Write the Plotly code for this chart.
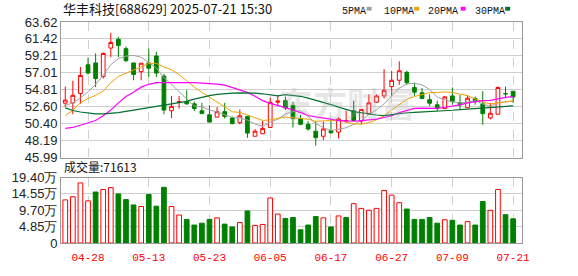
import plotly.graph_objects as go

dates = ["04-23","04-24","04-25","04-28","04-29","04-30","05-06","05-07","05-08","05-09",
         "05-12","05-13","05-14","05-15","05-16","05-19","05-20","05-21","05-22","05-23",
         "05-26","05-27","05-28","05-29","05-30","06-03","06-04","06-05","06-06","06-09",
         "06-10","06-11","06-12","06-13","06-16","06-17","06-18","06-19","06-20","06-23",
         "06-24","06-25","06-26","06-27","06-30","07-01","07-02","07-03","07-04","07-07",
         "07-08","07-09","07-10","07-11","07-14","07-15","07-16","07-17","07-18","07-21"]

open_ = [53.07,53.11,54.33,58.06,58.30,56.54,60.23,61.37,60.15,58.30,
         57.16,58.30,59.20,56.59,52.08,53.19,53.27,52.98,52.08,51.55,
         51.26,51.96,51.14,50.53,51.35,48.77,49.10,49.91,53.19,53.39,
         52.78,51.06,50.32,49.42,48.77,49.50,49.30,50.76,52.08,50.73,
         51.67,53.19,54.01,55.23,56.05,57.08,55.11,54.42,53.52,52.86,
         52.37,54.01,53.11,52.49,53.68,52.98,51.14,51.63,54.33,54.62]
high = [55.23,55.97,57.77,59.00,59.53,59.66,62.19,61.70,60.43,58.30,
        58.26,60.15,59.74,56.87,54.01,54.01,54.74,53.27,53.11,52.78,
        52.57,53.11,51.35,52.25,51.35,49.71,50.73,53.80,54.01,53.93,
        53.27,51.55,50.73,50.73,50.65,50.81,51.22,52.10,53.39,52.25,
        54.21,54.21,57.49,57.28,58.51,57.28,55.73,55.03,54.21,53.39,
        54.01,55.11,54.13,54.09,53.93,54.62,53.11,55.23,55.23,54.62]
low = [52.57,51.63,52.98,56.79,55.15,56.26,59.04,59.04,58.43,56.05,
       56.05,56.46,56.46,51.63,51.14,52.37,52.86,52.04,51.71,50.61,
       51.26,51.06,50.32,50.32,48.56,48.77,49.10,49.91,52.78,52.17,
       49.91,50.20,49.50,47.54,48.28,49.10,48.48,50.50,50.73,50.32,
       51.67,53.11,53.68,54.01,55.44,55.44,54.01,53.60,52.70,52.04,
       52.37,52.86,52.29,52.49,52.86,50.24,50.94,51.63,53.80,53.11]
close = [53.47,54.09,56.67,56.99,56.26,59.53,60.96,60.56,58.59,56.79,
         58.26,57.61,56.99,52.17,52.66,53.27,52.98,52.37,51.71,50.61,
         51.96,51.35,50.41,51.43,49.18,49.42,49.79,53.19,53.35,52.45,
         51.06,50.32,49.71,48.60,49.71,49.22,51.02,50.80,50.81,52.25,
         53.11,54.01,54.74,56.05,57.28,55.73,54.50,53.68,53.07,52.37,
         53.88,53.27,52.86,53.72,53.27,51.71,51.76,55.11,54.28,53.88]

# volume in 万 (10k lots)
volume = [12.78,13.71,17.81,12.50,15.11,15.86,16.42,14.55,12.87,11.29,
          10.82,14.36,10.91,16.51,10.82,8.30,7.00,5.32,5.88,7.00,
          7.46,5.60,4.76,6.06,9.51,5.22,5.50,13.34,8.58,7.28,
          7.55,3.92,5.32,7.83,7.46,4.76,8.02,7.55,11.66,10.26,
          9.70,10.26,15.58,14.18,11.94,10.07,7.00,7.00,7.55,5.88,
          6.90,6.72,5.32,6.34,5.32,12.31,9.70,15.86,8.39,7.16]
vol_up = [1,1,1,1,0,1,1,0,0,0,1,0,0,0,1,1,0,0,0,0,
          1,0,0,1,0,1,1,1,1,0,0,0,0,0,1,0,1,0,1,1,
          1,1,1,1,1,0,0,0,0,0,1,0,0,1,0,0,1,1,0,0]

ma5_head = [52.78,53.10,53.74,54.54]
ma10_head = [51.43,52.17,53.11,53.68,54.09,54.62,55.73,56.54,56.95]
ma20_head = [49.79,49.91,50.20,50.53,50.81,51.43,52.17,53.11,53.93,54.50,
             55.15,55.52,55.73,55.75,55.75,55.81,55.81,55.73,55.68]
ma30_head = [52.45,52.12,51.92,51.76,51.67,51.67,51.71,51.84,52.00,52.21,
             52.33,52.49,52.66,52.86,53.02,53.15,53.31,53.60,53.84,54.05,
             54.21,54.33,54.38,54.42,54.42,54.38,54.29,54.17,54.01]

price_ticks = [45.99,48.19,50.40,52.60,54.81,57.01,59.21,61.42,63.62]
vol_ticks = [0,4.85,9.70,14.55,19.40]
vol_tick_text = ["0","4.85万","9.70万","14.55万","19.40万"]
date_tick_idx = [3,11,19,27,35,43,51,59]

title_text = "华丰科技[688629] 2025-07-21 15:30"
vol_label = "成交量:71613"

def ma(n, head):
    out = list(head)
    for i in range(len(head), len(close)):
        out.append(sum(close[i-n+1:i+1]) / n)
    return out

RED = "#ff0000"
GREEN = "#008000"
x = list(range(len(close)))

fig = go.Figure()
fig.add_trace(go.Candlestick(
    x=x, open=open_, high=high, low=low, close=close,
    increasing=dict(line=dict(color=RED, width=1), fillcolor="white"),
    decreasing=dict(line=dict(color=GREEN, width=1), fillcolor=GREEN),
    whiskerwidth=0, xaxis="x", yaxis="y", hoverinfo="skip"))

for n, head, col, w in [(5, ma5_head, "#a0a0a0", 1), (10, ma10_head, "#f0a000", 1),
                        (20, ma20_head, "#ff00ff", 1.2), (30, ma30_head, "#006f2e", 1.2)]:
    fig.add_trace(go.Scatter(x=x, y=ma(n, head), mode="lines",
                             line=dict(color=col, width=w), xaxis="x", yaxis="y",
                             hoverinfo="skip"))

fig.add_trace(go.Bar(
    x=x, y=volume, width=0.62,
    marker=dict(color=["white" if u else GREEN for u in vol_up],
                line=dict(color=[RED if u else GREEN for u in vol_up], width=1)),
    xaxis="x2", yaxis="y2", hoverinfo="skip"))

grid = "#cfcfcf"
frame = "#9a9a9a"
xr = [-0.56, 60.17]
fig.update_layout(
    width=578, height=276, margin=dict(l=56, r=56, t=22, b=21),
    paper_bgcolor="white", plot_bgcolor="white", showlegend=False,
    font=dict(family="Liberation Sans, Arial", size=13, color="#222"),
    xaxis=dict(domain=[0, 1], range=xr, anchor="y", tickvals=date_tick_idx,
               showticklabels=False, showgrid=True, gridcolor=grid, griddash="dash",
               showline=True, mirror=True, linecolor=frame, linewidth=1,
               zeroline=False, rangeslider=dict(visible=False), ticks=""),
    yaxis=dict(domain=[0.3863, 1], range=[45.99, 63.62], tickvals=price_ticks,
               ticktext=[f"{v:.2f}" for v in price_ticks],
               showgrid=True, gridcolor=grid, showline=True, mirror=True,
               linecolor=frame, linewidth=1, zeroline=False, ticks="",
               tickfont=dict(size=13, color="#222")),
    xaxis2=dict(domain=[0, 1], range=xr, anchor="y2", matches="x",
                tickvals=date_tick_idx, ticktext=[dates[i] for i in date_tick_idx],
                showgrid=True, gridcolor=grid, griddash="dash",
                showline=True, mirror=True, linecolor=frame, linewidth=1,
                zeroline=False, ticks="", ticklabelstandoff=4,
                tickfont=dict(family="Liberation Mono, DejaVu Sans Mono", size=11, color=RED)),
    yaxis2=dict(domain=[0, 0.2961], range=[0, 19.40], tickvals=vol_ticks,
                ticktext=vol_tick_text, showgrid=True, gridcolor=grid,
                showline=True, mirror=True, linecolor=frame, linewidth=1,
                zeroline=False, ticks="", tickfont=dict(size=13, color="#222")),
    bargap=0.3,
)

# watermark
fig.add_annotation(text="<b>东方财富</b>", xref="paper", yref="paper", x=0.62, y=0.755,
                   showarrow=False, font=dict(family="Noto Sans CJK SC", size=34,
                                              color="rgba(170,170,170,0.28)"))

# title
fig.add_annotation(text=title_text, xref="paper", yref="paper", x=0, y=1,
                   xanchor="left", yanchor="bottom", yshift=2, showarrow=False,
                   font=dict(family="Noto Sans CJK SC", size=13, color="#111"))
# volume label
fig.add_annotation(text=vol_label, xref="paper", yref="paper", x=0.003, y=0.2961,
                   xanchor="left", yanchor="bottom", yshift=1, showarrow=False,
                   font=dict(family="Noto Sans CJK SC", size=12, color="#111"))

# MA legend
legend_items = [("5PMA", "#a0a0a0", 338, 365), ("10PMA", "#f0a000", 380, 413),
                ("20PMA", "#ff00ff", 425, 460), ("30PMA", "#006f2e", 472, 505)]
W = 578 - 112
for name, col, tx, mx in legend_items:
    fig.add_annotation(text=name, xref="paper", yref="paper",
                       x=(tx - 56) / W, y=1, xanchor="left", yanchor="bottom",
                       yshift=3, showarrow=False,
                       font=dict(family="Liberation Mono, DejaVu Sans Mono", size=10, color="#111"))
    fig.add_shape(type="rect", xref="paper", yref="paper",
                  x0=(mx - 56) / W, x1=(mx + 5 - 56) / W,
                  y0=1 + 12 / 233, y1=1 + 16 / 233,
                  fillcolor=col, line=dict(width=0))

fig.write_html("out.html", config={"displayModeBar": False})
